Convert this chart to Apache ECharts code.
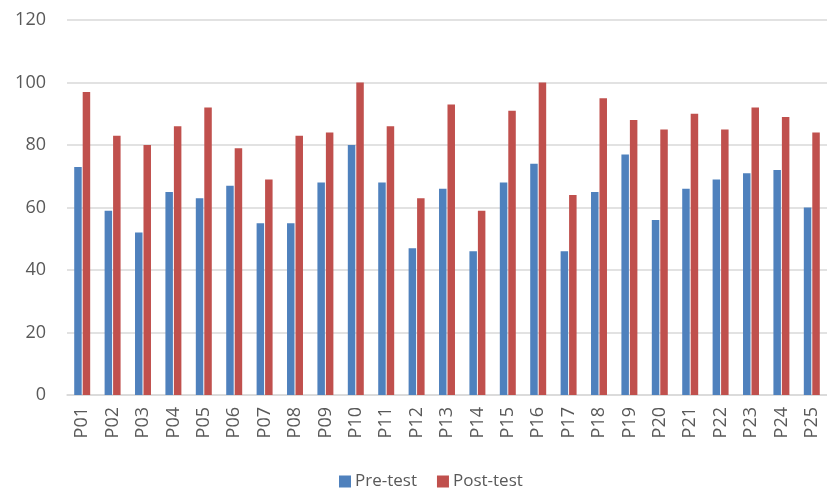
<!DOCTYPE html>
<html>
<head>
<meta charset="utf-8">
<script src="https://cdn.jsdelivr.net/npm/echarts@6/dist/echarts.min.js"></script>
<style>html,body{margin:0;padding:0;background:#fff;}#c{width:827px;height:489px;}</style>
</head>
<body>
<div id="c"></div>
<script>
const categories = ['P01','P02','P03','P04','P05','P06','P07','P08','P09','P10','P11','P12','P13','P14','P15','P16','P17','P18','P19','P20','P21','P22','P23','P24','P25'];
const preTest  = [73,59,52,65,63,67,55,55,68,80,68,47,66,46,68,74,46,65,77,56,66,69,71,72,60];
const postTest = [97,83,80,86,92,79,69,83,84,100,86,63,93,59,91,100,64,95,88,85,90,85,92,89,84];
const yTicks = { min: 0, max: 120, interval: 20 };

const chart = echarts.init(document.getElementById('c'), null, {renderer: 'canvas'});
chart.setOption({
  animation: false,
  backgroundColor: '#ffffff',
  textStyle: { fontFamily: 'Open Sans, Noto Sans, sans-serif' },
  legend: {
    data: ['Pre-test', 'Post-test'],
    left: 334, top: 468,
    itemWidth: 12, itemHeight: 12, itemGap: 20,
    icon: 'rect',
    textStyle: { fontSize: 17, color: '#595959', fontFamily: 'Open Sans, sans-serif', padding: [0,0,0,-1] }
  },
  grid: { left: 67, top: 20, width: 771, height: 375, containLabel: false },
  xAxis: {
    type: 'category',
    data: categories,
    axisLine: { lineStyle: { color: '#d9d9d9', width: 1.5 } },
    axisTick: { show: false },
    axisLabel: { rotate: 90, fontSize: 18, color: '#595959', margin: 12, interval: 0, fontFamily: 'Open Sans, sans-serif' }
  },
  yAxis: {
    type: 'value',
    min: yTicks.min, max: yTicks.max, interval: yTicks.interval,
    axisLine: { show: false },
    axisTick: { show: false },
    splitLine: { lineStyle: { color: '#d9d9d9', width: 1.5 } },
    axisLabel: { fontSize: 18, color: '#595959', margin: 21, fontFamily: 'Open Sans, sans-serif' }
  },
  series: [
    { name: 'Pre-test', type: 'bar', data: preTest, barWidth: 7.5, barGap: '13%', itemStyle: { color: '#4F81BD' } },
    { name: 'Post-test', type: 'bar', data: postTest, barWidth: 7.5, barGap: '13%', itemStyle: { color: '#C0504D' } }
  ]
});
</script>
</body>
</html>
